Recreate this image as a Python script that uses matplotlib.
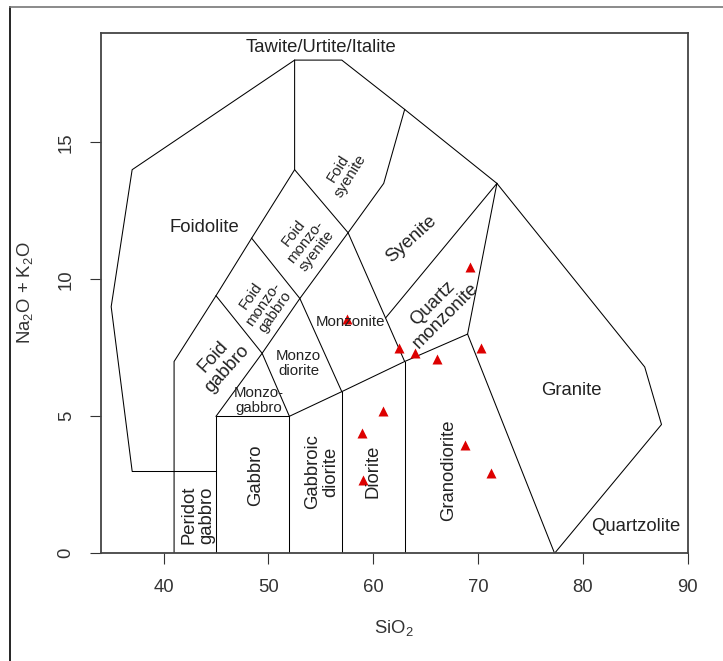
import matplotlib.pyplot as plt
from matplotlib.lines import Line2D

plt.rcParams['font.family'] = ['Liberation Sans', 'DejaVu Sans']
plt.rcParams['mathtext.fontset'] = 'custom'
plt.rcParams['mathtext.rm'] = 'Liberation Sans'
plt.rcParams['mathtext.it'] = 'Liberation Sans:italic'

# samples (SiO2 vs total alkali)
sio2 = [57.5, 69.2, 62.5, 64.0, 66.1, 70.3, 60.9, 58.9, 59.0, 68.8, 71.2]
alkali = [8.55, 10.45, 7.5, 7.3, 7.1, 7.5, 5.2, 4.4, 2.68, 3.95, 2.94]

# field boundaries of the plutonic TAS diagram (Middlemost 1994)
boundaries = [
    [(37, 3), (45, 3)],
    [(41, 0), (41, 7), (45, 9.4), (48.4, 11.5), (52.5, 14), (52.5, 18)],
    [(37, 3), (35, 9), (37, 14), (52.5, 18), (57, 18), (63, 16.2), (71.8, 13.5),
     (85.9, 6.8), (87.5, 4.7), (77.3, 0)],
    [(45, 0), (45, 5), (52, 5), (52, 0)],
    [(45, 5), (49.4, 7.3), (53, 9.3), (57.6, 11.7), (61, 13.5), (63, 16.2)],
    [(45, 9.4), (49.4, 7.3), (52, 5)],
    [(48.4, 11.5), (53, 9.3), (57, 5.9)],
    [(52.5, 14), (57.6, 11.7), (63, 7)],
    [(52, 5), (57, 5.9), (63, 7), (69, 8), (71.8, 13.5)],
    [(57, 0), (57, 5.9)],
    [(63, 0), (63, 7)],
    [(69, 8), (77.3, 0)],
    [(61.2, 8.6), (71.8, 13.5)],
]

# field names: text, x, y, rotation, size
big = 13.3
small = 10.8
field_labels = [
    ("Tawite/Urtite/Italite", 55.0, 18.45, 0, big),
    ("Foidolite", 43.9, 11.9, 0, big),
    ("Foid\nsyenite", 57.25, 13.9, 58, small),
    ("Foid\nmonzo-\nsyenite", 53.5, 11.35, 52, small),
    ("Syenite", 63.6, 11.45, 42, big),
    ("Foid\nmonzo-\ngabbro", 49.5, 9.1, 55, small),
    ("Foid\ngabbro", 45.4, 6.95, 48, big),
    ("Monzonite", 57.8, 8.45, 0, small),
    ("Quartz\nmonzonite", 66.3, 8.9, 45, big),
    ("Monzo\ndiorite", 52.9, 6.93, 0, small),
    ("Monzo-\ngabbro", 49.1, 5.57, 0, small),
    ("Gabbro", 48.75, 2.86, 90, big),
    ("Gabbroic\ndiorite", 55.1, 2.98, 90, big),
    ("Diorite", 60.0, 2.98, 90, big),
    ("Granodiorite", 67.2, 3.04, 90, big),
    ("Peridot\ngabbro", 43.3, 1.4, 90, big),
    ("Granite", 78.9, 5.93, 0, big),
    ("Quartzolite", 85.0, 0.97, 0, big),
]

xticks = [40, 50, 60, 70, 80, 90]
yticks = [0, 5, 10, 15]

fig = plt.figure(figsize=(7.23, 6.61), dpi=100)
ax = fig.add_axes([100.7 / 723, (661 - 553.3) / 661, 587 / 723, 520.6 / 661])

for line in boundaries:
    xs = [p[0] for p in line]
    ys = [p[1] for p in line]
    ax.plot(xs, ys, color='black', lw=0.75, solid_joinstyle='miter')

for text, x, y, rot, size in field_labels:
    ax.text(x, y, text, rotation=rot, fontsize=size, ha='center', va='center',
            color='#222222', linespacing=1.05, rotation_mode='anchor')

ax.plot(sio2, alkali, '^', color='#dd0000', ms=7.5, mec='none')

ax.set_xlim(34, 90)
ax.set_ylim(0, 19)
ax.set_xticks(xticks)
ax.set_yticks(yticks)
ax.tick_params(direction='out', length=7.7, width=0.8, labelsize=13.3, pad=11,
               colors='#333333')
plt.setp(ax.get_yticklabels(), rotation=90, va='center')

for s in ax.spines.values():
    s.set_color('#444444')
    s.set_linewidth(1.3)

ax.set_xlabel(r'SiO$_2$', fontsize=13.3, color='#333333')
ax.set_ylabel(r'Na$_2$O + K$_2$O', fontsize=13.3, color='#333333')
ax.xaxis.set_label_coords(0.5, -0.125)
ax.yaxis.set_label_coords(-0.112, 0.5)

# frame of the original screenshot
fig.add_artist(Line2D([10 / 723, 10 / 723], [0, 1 - 7 / 661], color='black', lw=1.2))
fig.add_artist(Line2D([10 / 723, 1], [1 - 7 / 661, 1 - 7 / 661], color='#777777', lw=1.2))

fig.savefig('out.png', dpi=100)
